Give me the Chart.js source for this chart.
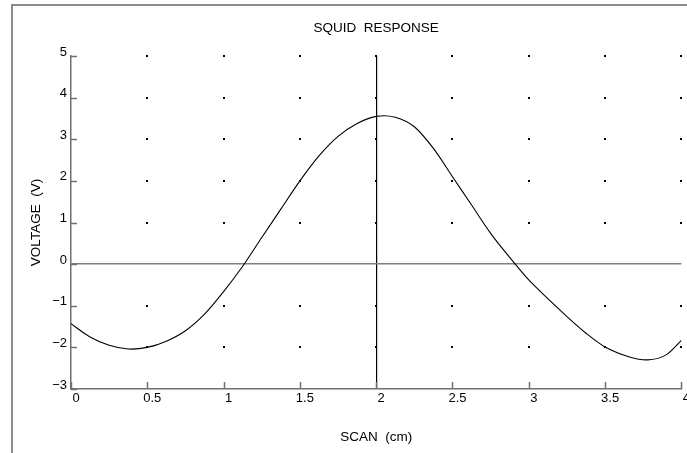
<!DOCTYPE html>
<html>
<head>
<meta charset="utf-8">
<script src="https://cdn.jsdelivr.net/npm/chart.js@4.4.1/dist/chart.umd.min.js"></script>
<style>
  html, body { margin: 0; padding: 0; background: #fff; }
  #wrap { position: relative; width: 687px; height: 453px; overflow: hidden; }
  #frame { position: absolute; left: 11px; top: 4px; width: 700px; height: 470px;
           border-left: 2px solid #8c8c8c; border-top: 2px solid #8c8c8c; pointer-events: none; }
</style>
</head>
<body>
<div id="wrap">
  <canvas id="chart" width="687" height="453"></canvas>
  <div id="frame"></div>
</div>
<script>
// scan position (cm) and SQUID voltage (V)
const scanX = [0, 0.125, 0.25, 0.375, 0.5, 0.625, 0.75, 0.875, 1, 1.125, 1.25, 1.375, 1.5,
               1.625, 1.75, 1.875, 2, 2.125, 2.25, 2.375, 2.5, 2.625, 2.75, 2.875, 3,
               3.125, 3.25, 3.375, 3.5, 3.66, 3.78, 3.9, 4];
const voltage = [-1.43, -1.75, -1.95, -2.04, -2.0, -1.85, -1.6, -1.2, -0.66, -0.05, 0.64, 1.32, 2.0,
                 2.6, 3.07, 3.38, 3.55, 3.53, 3.30, 2.78, 2.10, 1.42, 0.74, 0.16, -0.38,
                 -0.83, -1.26, -1.66, -1.99, -2.23, -2.30, -2.18, -1.83];

const xMin = 0, xMax = 4, xStep = 0.5;
const yMin = -3, yMax = 5, yStep = 1;
const xCross = 2;   // vertical reference line
const yCross = 0;   // horizontal reference line

const FONT = 'Liberation Sans, Arial, sans-serif';
const AXIS_GRAY = '#707070';

function fmtY(v) {
    return v < 0 ? '\u2212' + Math.abs(v) : String(v);
}

// dot grid + inward tick marks
const dotsAndTicks = {
    id: 'dotsAndTicks',
    afterDatasetsDraw(chart) {
        const {ctx, chartArea: a, scales: {x, y}} = chart;
        ctx.save();
        ctx.fillStyle = '#000';
        x.ticks.forEach(tx => {
            if (tx.value === xMin) return;
            const px = x.getPixelForValue(tx.value);
            y.ticks.forEach(ty => {
                if (ty.value === yMin || ty.value === yCross) return;
                const py = y.getPixelForValue(ty.value);
                ctx.fillRect(Math.round(px) - 1, Math.round(py) - 1, 2, 2);
            });
        });
        ctx.strokeStyle = AXIS_GRAY;
        ctx.lineWidth = 1.5;
        ctx.beginPath();
        y.ticks.forEach(t => {
            const py = Math.round(y.getPixelForValue(t.value)) + 0.5;
            ctx.moveTo(a.left, py);
            ctx.lineTo(a.left + 6, py);
        });
        x.ticks.forEach(t => {
            const px = Math.round(x.getPixelForValue(t.value)) + 0.5;
            ctx.moveTo(px, a.bottom);
            ctx.lineTo(px, a.bottom - 7);
        });
        ctx.stroke();
        ctx.restore();
    }
};

const data = {
    datasets: [{
        label: 'SQUID response',
        data: scanX.map((sx, i) => ({x: sx, y: voltage[i]})),
        borderColor: '#000',
        borderWidth: 1.1,
        pointRadius: 0,
        tension: 0.3,
        fill: false,
    }]
};

const config = {
    type: 'line',
    data: data,
    options: {
        responsive: false,
        animation: false,
        devicePixelRatio: 1,
        layout: { padding: { left: 0, right: 5, top: 0, bottom: 0 } },
        plugins: {
            legend: { display: false },
            tooltip: { enabled: false },
            title: {
                display: true,
                text: 'SQUID  RESPONSE',
                fullSize: false,
                color: '#000',
                font: { family: FONT, size: 13.5, weight: 'normal' },
                padding: { top: 20, bottom: 19.8 },
            },
        },
        scales: {
            x: {
                type: 'linear',
                min: xMin,
                max: xMax,
                afterFit: s => { s.height = 64; },
                ticks: {
                    stepSize: xStep,
                    color: '#000',
                    padding: 2,
                    labelOffset: 5,
                    maxRotation: 0,
                    font: { family: FONT, size: 13 },
                    callback: v => String(v),
                },
                grid: {
                    drawTicks: false,
                    lineWidth: 1.2,
                    color: c => (c.tick && c.tick.value === xCross) ? '#000' : 'rgba(0,0,0,0)',
                },
                border: { display: true, color: AXIS_GRAY, width: 1.5 },
                title: {
                    display: true,
                    text: 'SCAN  (cm)',
                    color: '#000',
                    font: { family: FONT, size: 13.5 },
                    padding: { top: 0, bottom: 7.9 },
                },
            },
            y: {
                type: 'linear',
                min: yMin,
                max: yMax,
                afterFit: s => { s.width = 71; },
                ticks: {
                    stepSize: yStep,
                    color: '#000',
                    padding: 4,
                    labelOffset: -4,
                    font: { family: FONT, size: 13 },
                    callback: v => fmtY(v),
                },
                grid: {
                    drawTicks: false,
                    lineWidth: 1.5,
                    color: c => (c.tick && c.tick.value === yCross) ? '#808080' : 'rgba(0,0,0,0)',
                },
                border: { display: true, color: AXIS_GRAY, width: 1.5 },
                title: {
                    display: true,
                    text: 'VOLTAGE  (V)',
                    color: '#000',
                    font: { family: FONT, size: 13.5 },
                    padding: { top: 27.9, bottom: 0 },
                },
            },
        },
    },
    plugins: [dotsAndTicks],
};

new Chart(document.getElementById('chart'), config);
</script>
</body>
</html>
